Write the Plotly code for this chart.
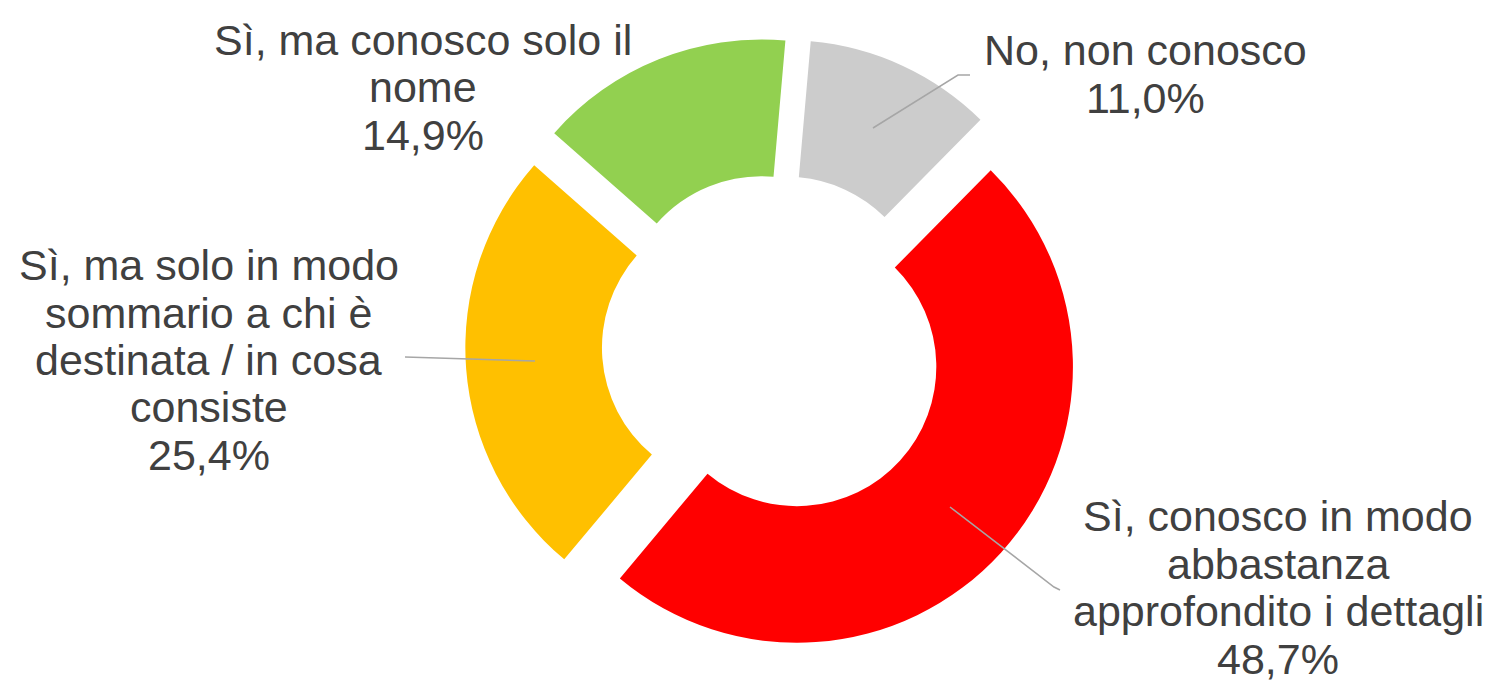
import plotly.graph_objects as go

# ---- data ----
categories = [
    "No, non conosco",
    "Sì, conosco in modo abbastanza approfondito i dettagli",
    "Sì, ma solo in modo sommario a chi è destinata / in cosa consiste",
    "Sì, ma conosco solo il nome",
]
values = [11.0, 48.7, 25.4, 14.9]
colors = ["#CCCCCC", "#FF0000", "#FFC000", "#92D050"]

# ---- layout (positions/styles) ----
W, H = 1489, 684
label_lines = [
    ["No, non conosco"],
    ["Sì, conosco in modo", "abbastanza", "approfondito i dettagli"],
    ["Sì, ma solo in modo", "sommario a chi è", "destinata / in cosa", "consiste"],
    ["Sì, ma conosco solo il", "nome"],
]
# label block: center x, first-line center y (pixels)
label_pos = [(1145, 50), (1278, 516), (209, 265), (423, 40)]
line_step = 47.5
leaders = [
    [(873, 128), (958, 75), (970, 75)],
    [(950, 507), (1054, 587), (1060, 590)],
    [(535, 361), (405, 357)],
    None,
]

cx, cy, half = 773.25, 345.25, 308
font_family = "Liberation Sans, Arial, sans-serif"
text_color = "#404040"


def px(x):
    return x / W


def py(y):
    return 1 - y / H


fig = go.Figure(
    go.Pie(
        labels=categories,
        values=values,
        marker=dict(colors=colors, line=dict(width=0)),
        hole=0.505,
        pull=[0.116] * len(values),
        rotation=5,
        direction="clockwise",
        sort=False,
        textinfo="none",
        showlegend=False,
        domain=dict(x=[px(cx - half), px(cx + half)], y=[py(cy + half), py(cy - half)]),
    )
)

annotations = []
for lines, v, (lx, ly) in zip(label_lines, values, label_pos):
    all_lines = lines + [f"{v:.1f}".replace(".", ",") + "%"]
    for i, t in enumerate(all_lines):
        annotations.append(
            dict(
                x=px(lx), y=py(ly + i * line_step), xref="paper", yref="paper",
                text=t, showarrow=False, xanchor="center", yanchor="middle",
                font=dict(family=font_family, size=43, color=text_color),
            )
        )

shapes = []
for pts in leaders:
    if not pts:
        continue
    path = "M " + " L ".join(f"{px(x)},{py(y)}" for x, y in pts)
    shapes.append(
        dict(type="path", path=path, xref="paper", yref="paper",
             line=dict(color="#A6A6A6", width=1.5))
    )

fig.update_layout(
    width=W, height=H,
    margin=dict(l=0, r=0, t=0, b=0, pad=0),
    paper_bgcolor="white", plot_bgcolor="white",
    annotations=annotations,
    shapes=shapes,
    font=dict(family=font_family, color=text_color),
)

fig.write_html(
    "out.html",
    config={"displayModeBar": False},
    post_script="document.body.style.margin='0';document.body.style.overflow='hidden';",
)
